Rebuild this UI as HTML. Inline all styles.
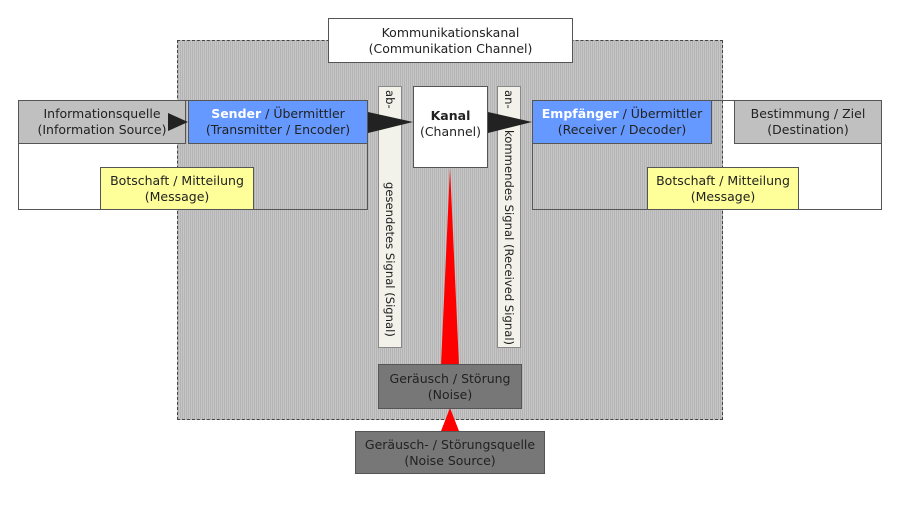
<!DOCTYPE html>
<html><head><meta charset="utf-8"><style>
body{margin:0;width:900px;height:510px;background:#fff;position:relative;overflow:hidden;font-family:"DejaVu Sans","Liberation Sans",sans-serif;font-size:12.5px;color:#222}
.a{position:absolute;box-sizing:border-box;text-align:center;line-height:16px}
.b{border:1px solid #555;display:flex;flex-direction:column;justify-content:center;align-items:center;white-space:nowrap}
.t{writing-mode:vertical-rl;font-size:11.6px;line-height:22px;white-space:nowrap}
</style></head><body>
<div class="a" style="left:177px;top:40px;width:546px;height:380px;border:1px dashed #444;background:repeating-linear-gradient(90deg,#b4b4b4 0 1px,#c6c6c6 1px 2px)"></div>
<div class="a" style="left:18px;top:100px;width:350px;height:110px;border:1px solid #555"></div>
<div class="a" style="left:532px;top:100px;width:350px;height:110px;border:1px solid #555"></div>
<div class="a b" style="left:328px;top:18px;width:245px;height:45px;background:#fff">Kommunikationskanal<br>(Communikation Channel)</div>
<div class="a b" style="left:18px;top:100px;width:168px;height:44px;background:#c0c0c0">Informationsquelle<br>(Information Source)</div>
<div class="a b" style="left:188px;top:100px;width:180px;height:44px;background:#6699ff"><span><b style="color:#fff">Sender</b> / Übermittler</span>(Transmitter / Encoder)</div>
<div class="a b" style="left:100px;top:167px;width:154px;height:43px;background:#ffff99">Botschaft / Mitteilung<br>(Message)</div>
<div class="a b" style="left:413px;top:86px;width:75px;height:82px;background:#fff;justify-content:flex-start;padding-top:21px"><b>Kanal</b>(Channel)</div>
<div class="a b" style="left:532px;top:100px;width:180px;height:44px;background:#6699ff"><span><b style="color:#fff">Empfänger</b> / Übermittler</span>(Receiver / Decoder)</div>
<div class="a b" style="left:734px;top:100px;width:148px;height:44px;background:#c0c0c0">Bestimmung / Ziel<br>(Destination)</div>
<div class="a b" style="left:647px;top:167px;width:152px;height:43px;background:#ffff99">Botschaft / Mitteilung<br>(Message)</div>
<div class="a" style="left:378px;top:86px;width:24px;height:262px;border:1px solid #888;background:#f2f2ea"></div>
<div class="a t" style="left:379px;top:90px;width:22px">ab-</div>
<div class="a t" style="left:379px;top:182px;width:22px">gesendetes Signal (Signal)</div>
<div class="a" style="left:497px;top:86px;width:24px;height:262px;border:1px solid #888;background:#f2f2ea"></div>
<div class="a t" style="left:498px;top:90px;width:22px">an-</div>
<div class="a t" style="left:498px;top:130px;width:22px">kommendes Signal (Received Signal)</div>
<svg class="a" style="left:0;top:0" width="900" height="510">
<polygon points="168,113 188,122 168,131" fill="#222"/>
<polygon points="368,112 413,122 368,133" fill="#222"/>
<polygon points="488,112 532,122 488,133" fill="#222"/>
<polygon points="450,168 459,365 441,365" fill="#ff0000"/>
<polygon points="450,408 459,431 441,431" fill="#ff0000"/>
</svg>
<div class="a b" style="left:378px;top:364px;width:144px;height:45px;background:#777">Geräusch / Störung<br>(Noise)</div>
<div class="a b" style="left:355px;top:431px;width:190px;height:43px;background:#777">Geräusch- / Störungsquelle<br>(Noise Source)</div>
</body></html>
